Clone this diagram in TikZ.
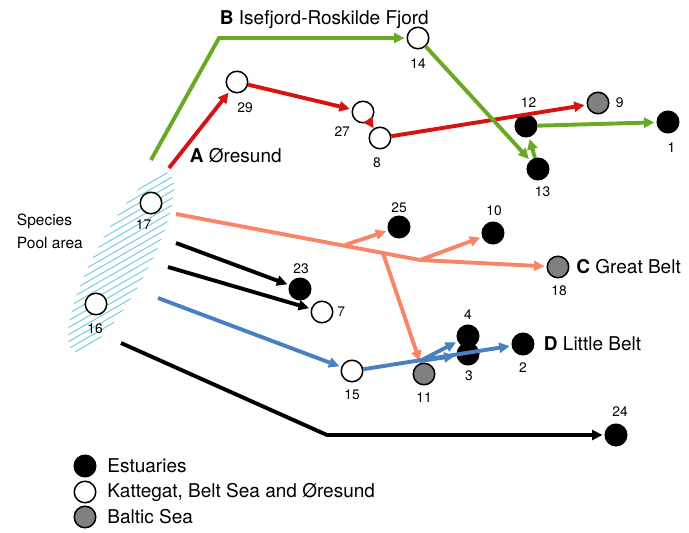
\documentclass[tikz,border=0pt]{standalone}
\usepackage{fontspec}
\setmainfont{TeX Gyre Heros}
\usetikzlibrary{positioning,arrows.meta}

\definecolor{routeA}{RGB}{214,18,18}
\definecolor{routeB}{RGB}{104,170,36}
\definecolor{routeC}{RGB}{250,132,104}
\definecolor{routeD}{RGB}{74,128,192}
\definecolor{hatchblue}{RGB}{110,200,225}
\definecolor{balticgray}{RGB}{128,128,128}

\tikzset{
  site/.style={circle, draw=black, line width=1.5pt, minimum size=21.5pt, inner sep=0pt},
  estuary/.style={site, fill=black},
  coast/.style={site, fill=white},
  baltic/.style={site, fill=balticgray},
  nr/.style={inner sep=0.75pt, font=\fontsize{13.8}{15}\selectfont},
  region/.style={inner sep=0.75pt, font=\fontsize{19}{21}\selectfont},
  route/.style={line width=3.9pt, -{Triangle[length=10.5pt,width=10pt]}, shorten >=2pt},
  hatch/.style={draw=hatchblue, line width=0.9pt},
}

\begin{document}
\begin{tikzpicture}[x=1pt,y=-1pt]
\useasboundingbox (0,0) rectangle (689,533);

%Shape: Ellipse [species pool]
\begin{scope}
\clip[rotate around={62:(121,262)}] (121,262) ellipse [x radius=101, y radius=27];
\foreach \h in {120,127,...,480}
  \draw[hatch] (40,\h) -- (200,\h-92);
\end{scope}

% Text Node
\node[inner sep=0.75pt, anchor=west, align=left, font=\fontsize{15.5}{23}\selectfont] (pool) at (16,231) {Species\\Pool area};

%Shape: Circle [sites]
\node[coast] (n17) at (151,203) {};
\node[coast] (n16) at (96,304) {};
\node[coast] (n14) at (418,38) {};
\node[coast] (n29) at (237,82) {};
\node[coast] (n27) at (363,112) {};
\node[coast] (n8) at (380,138) {};
\node[estuary] (n12) at (526,126) {};
\node[baltic] (n9) at (598,103) {};
\node[estuary] (n1) at (668,122) {};
\node[estuary] (n13) at (538,169) {};
\node[estuary] (n25) at (399,227) {};
\node[estuary] (n10) at (493,233) {};
\node[baltic] (n18) at (558,267) {};
\node[estuary] (n23) at (300,289) {};
\node[coast] (n7) at (322,312) {};
\node[estuary] (n4) at (468,336) {};
\node[estuary] (n3) at (468,354) {};
\node[estuary] (n2) at (523,344) {};
\node[baltic] (n11) at (424,374) {};
\node[coast] (n15) at (352,371) {};
\node[estuary] (n24) at (616,435) {};

% Text Node [site numbers]
\node[nr, below=4.5pt of n17, xshift=-7.5pt] (t17) {17};
\node[nr, below=7.5pt of n16, xshift=-1pt] (t16) {16};
\node[nr, below=8pt of n14] (t14) {14};
\node[nr, below=8.5pt of n29, xshift=8pt] (t29) {29};
\node[nr, below left=6pt and 4pt of n27] (t27) {27};
\node[nr, below=7.5pt of n8, xshift=-3pt] (t8) {8};
\node[nr, above=6pt of n12, xshift=2.5pt] (t12) {12};
\node[nr, right=5.5pt of n9] (t9) {9};
\node[nr, below=8pt of n1, xshift=3.5pt] (t1) {1};
\node[nr, below=5.5pt of n13, xshift=4.5pt] (t13) {13};
\node[nr, above=2pt of n25] (t25) {25};
\node[nr, above=5pt of n10, xshift=1pt] (t10) {10};
\node[nr, below=6pt of n18, xshift=1pt] (t18) {18};
\node[nr, above=3pt of n23, xshift=1pt] (t23) {23};
\node[nr, right=3pt of n7] (t7) {7};
\node[nr, above=4pt of n4] (t4) {4};
\node[nr, below=4.5pt of n3, xshift=1pt] (t3) {3};
\node[nr, below=6.5pt of n2] (t2) {2};
\node[nr, below=6.5pt of n11] (t11) {11};
\node[nr, below=6.5pt of n15] (t15) {15};
\node[nr, above=6pt of n24, xshift=4pt] (t24) {24};

% Text Node [regions]
\node[region, anchor=west] (labB) at (219,20) {\textbf{B} Isefjord-Roskilde Fjord};
\node[region, anchor=west] (labA) at (189,156) {\textbf{A} Øresund};
\node[region, right=6pt of n18] (labC) {\textbf{C} Great Belt};
\node[region, right=8.5pt of n2] (labD) {\textbf{D} Little Belt};

% route end points
\coordinate (gB) at (151,160);
\coordinate (cB) at (219,38);
\coordinate (rA) at (169,168);
\coordinate (sC) at (176,214);
\coordinate (kC) at (420,260);
\coordinate (b25) at (345,245);
\coordinate (b11) at (383,253);
\coordinate (bD) at (158,298);
\coordinate (b4) at (420,361);
\coordinate (k23) at (176,243);
\coordinate (k7) at (168,267);
\coordinate (k24) at (121,343);
\coordinate (c24) at (327,435);

%Straight Lines [A]
\draw[route, routeA] (rA) -- (n29);
\draw[route, routeA] (n29) -- (n27);
\draw[route, routeA, shorten >=0pt] (n27) -- (n8);
\draw[route, routeA] (n8) -- (n9);
%Straight Lines [B]
\draw[route, routeB] (gB) -- (cB) -- (n14);
\draw[route, routeB] (n14) -- (n13);
\draw[route, routeB] (n13) -- (n12);
\draw[route, routeB] (n12) -- (n1);
%Straight Lines [C]
\draw[route, routeC] (sC) -- (kC) -- (n18);
\draw[route, routeC] (b25) -- (n25);
\draw[route, routeC] (kC) -- (n10);
\draw[route, routeC] (b11) -- (n11);
%Straight Lines [other]
\draw[route] (k23) -- (n23);
\draw[route] (k7) -- (n7);
\draw[route] (k24) -- (c24) -- (n24);
%Straight Lines [D]
\draw[route, routeD] (bD) -- (n15);
\draw[route, routeD] (n15) -- (n2);
\draw[route, routeD] (b4) -- (n4);
\draw[route, routeD] (b4) -- (n3);

%Shape: Circle [legend]
\node[estuary] (lgE) at (85,466) {};
\node[coast] (lgK) at (85,492) {};
\node[baltic] (lgB) at (85,517) {};
% Text Node [legend]
\node[region, right=10pt of lgE] (txE) {Estuaries};
\node[region, right=10pt of lgK] (txK) {Kattegat, Belt Sea and Øresund};
\node[region, right=10pt of lgB] (txB) {Baltic Sea};

\end{tikzpicture}
\end{document}
